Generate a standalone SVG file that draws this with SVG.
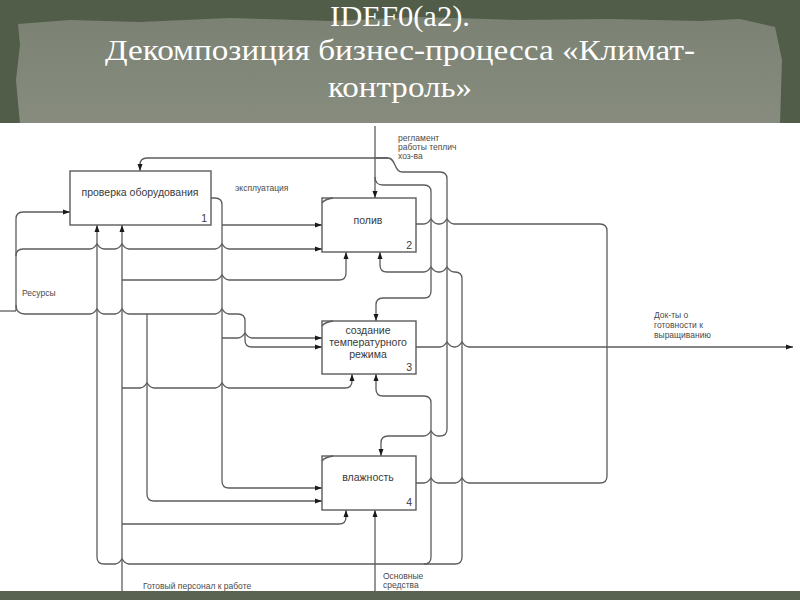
<svg xmlns="http://www.w3.org/2000/svg" width="800" height="600" viewBox="0 0 800 600">
<defs>
<marker id="a" markerWidth="8" markerHeight="6" refX="7" refY="3" orient="auto" markerUnits="userSpaceOnUse"><path d="M0,0.5 L7,3 L0,5.5 z" fill="#1a1a1a"/></marker>
<linearGradient id="paper" x1="0" y1="0" x2="0" y2="1"><stop offset="0" stop-color="#7b8273"/><stop offset="1" stop-color="#878c7f"/></linearGradient>
<style>
.c{fill:none;stroke:#5c5c5c;stroke-width:1.3}
.ar{marker-end:url(#a)}
.box{fill:#fff;stroke:#5c5c5c;stroke-width:1.4}
.bt{font-family:"Liberation Sans",Arial,sans-serif;font-size:10.5px;fill:#3a3a3a;text-anchor:middle}
.num{font-family:"Liberation Sans",Arial,sans-serif;font-size:10.5px;fill:#3a3a3a;text-anchor:end}
.lb{font-family:"Liberation Sans",Arial,sans-serif;font-size:8.5px;fill:#4a4a4a}
.tt{font-family:"Liberation Serif","Times New Roman",serif;font-size:30px;fill:#ffffff;text-anchor:middle}
</style>
</defs>
<rect x="0" y="0" width="800" height="124" fill="#525d49"/>
<path d="M18,24 L70,20 L140,22 L230,18 L330,21 L420,17 L520,20 L610,19 L700,21 L740,19 L775,27 L782,60 L780,124 L20,124 L16,80 L20,45 Z" fill="url(#paper)"/>
<rect x="0" y="123" width="800" height="468" fill="#ffffff"/>
<rect x="0" y="591" width="800" height="9" fill="#5a6252"/>
<g id="title">
<text class="tt" x="400" y="26" textLength="140" lengthAdjust="spacingAndGlyphs">IDEF0(a2).</text>
<text class="tt" x="400" y="60" textLength="590" lengthAdjust="spacingAndGlyphs">Декомпозиция бизнес-процесса «Климат-</text>
<text class="tt" x="400" y="97" textLength="144" lengthAdjust="spacingAndGlyphs">контроль»</text>
</g>
<g id="connectors">
<path class="c ar" d="M388,158 H147 Q140,158 140,165 V171"/>
<path class="c ar" d="M375,158 H388 C396,158 394,172 402,172 H440 Q447,172 447,179 V429 Q447,436 440,436 H438 C434,436 432,432 431,431 C430,432 428,436 424,436 H388 Q381,436 381,443 V456"/>
<path class="c ar" d="M375,126 V198"/>
<path class="c ar" d="M375,177 Q375,185 383,185 H424 Q431,185 431,192 V291 Q431,298 424,298 H383 Q376,298 376,305 V321"/>
<path class="c" d="M0,311 H16"/>
<path class="c ar" d="M16,311 V219 Q16,212 23,212 H70"/>
<path class="c ar" d="M16,256 Q16,249 23,249 H90 C94,249 96,245 97,244 C98,245 100,249 104,249 H115 C119,249 121,245 122,244 C123,245 125,249 129,249 H215 C219,249 221,245 222,244 C223,245 225,249 229,249 H322"/>
<path class="c ar" d="M16,305 Q16,314 25,314 H90 C94,314 96,310 97,309 C98,310 100,314 104,314 H115 C119,314 121,310 122,309 C123,310 125,314 129,314 H215 C219,314 221,310 222,309 C223,310 225,314 229,314 H238 Q245,314 245,321 V340 Q245,347 252,347 H322"/>
<path class="c ar" d="M147,314 V494 Q147,501 154,501 H322"/>
<path class="c ar" d="M211,198 H215 Q222,198 222,205 V481 Q222,488 229,488 H322"/>
<path class="c ar" d="M222,225 H322"/>
<path class="c ar" d="M222,338 H238 C242,338 244,334 245,333 C246,334 248,338 252,338 H322"/>
<path class="c ar" d="M122,591 V225"/>
<path class="c ar" d="M122,280 H215 C219,280 221,276 222,275 C223,276 225,280 229,280 H339 Q346,280 346,273 V252"/>
<path class="c ar" d="M122,388 H140 C144,388 146,384 147,383 C148,384 150,388 154,388 H215 C219,388 221,384 222,383 C223,384 225,388 229,388 H345 Q352,388 352,381 V374"/>
<path class="c ar" d="M122,524 H339 Q346,524 346,517 V510"/>
<path class="c ar" d="M375,591 V510"/>
<path class="c ar" d="M375,564 H129 C125,564 123,560 122,559 C121,560 119,564 115,564 H104 Q97,564 97,557 V225"/>
<path class="c ar" d="M375,564 H424 Q431,564 431,557 V403 Q431,396 424,396 H383 Q376,396 376,389 V374"/>
<path class="c ar" d="M424,564 H455 Q462,564 462,557 V279 Q462,272 455,272 H454 C450,272 448,268 447,267 C446,268 444,272 440,272 H438 C434,272 432,268 431,267 C430,268 428,272 424,272 H387 Q380,272 380,265 V252"/>
<path class="c" d="M416,224 H424 C428,224 430,220 431,219 C432,220 434,224 438,224 H440 C444,224 446,220 447,219 C448,220 450,224 454,224 H600 Q607,224 607,231 V476 Q607,483 600,483 H469 C465,483 463,479 462,478 C461,479 459,483 455,483 H438 C434,483 432,479 431,478 C430,479 428,483 424,483 H416"/>
<path class="c ar" d="M416,347 H440 C444,347 446,343 447,342 C448,343 450,347 454,347 H455 C459,347 461,343 462,342 C463,343 465,347 469,347 H793"/>
<text class="lb" x="235" y="191">эксплуатация</text>
<text class="lb" x="22" y="296" font-size="9">Ресурсы</text>
<text class="lb" x="398" y="141">регламент</text>
<text class="lb" x="398" y="150">работы теплич</text>
<text class="lb" x="398" y="159">хоз-ва</text>
<text class="lb" x="654" y="318">Док-ты о</text>
<text class="lb" x="654" y="328">готовности к</text>
<text class="lb" x="654" y="338">выращиванию</text>
<text class="lb" x="143" y="589">Готовый персонал к работе</text>
<text class="lb" x="383" y="579">Основные</text>
<text class="lb" x="383" y="588">средства</text>
</g>
<g id="box1">
<rect class="box" x="70" y="171" width="141" height="54"/>
<text class="bt" x="140" y="196">проверка оборудования</text>
<text class="num" x="207" y="222">1</text>
</g>
<g id="box2">
<rect class="box" x="322" y="198" width="94" height="54"/>
<path class="c" d="M322,203 Q325,199 333,198"/>
<text class="bt" x="368" y="224">полив</text>
<text class="num" x="412" y="249">2</text>
</g>
<g id="box3">
<rect class="box" x="322" y="321" width="94" height="53"/>
<path class="c" d="M322,326 Q325,322 333,321"/>
<text class="bt" x="368" y="334">создание</text>
<text class="bt" x="368" y="346">температурного</text>
<text class="bt" x="368" y="358">режима</text>
<text class="num" x="412" y="371">3</text>
</g>
<g id="box4">
<rect class="box" x="322" y="456" width="94" height="54"/>
<path class="c" d="M322,461 Q325,457 333,456"/>
<text class="bt" x="368" y="481">влажность</text>
<text class="num" x="412" y="506">4</text>
</g>
</svg>
